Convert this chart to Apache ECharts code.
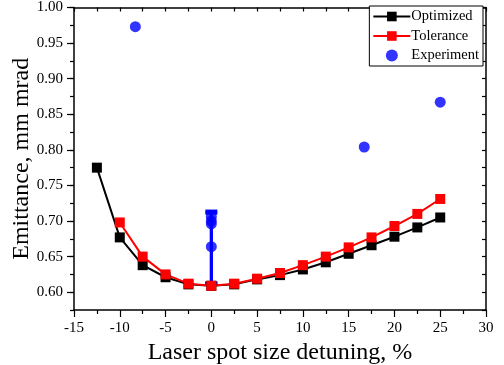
<!DOCTYPE html>
<html>
<head>
<meta charset="utf-8">
<script src="https://cdn.jsdelivr.net/npm/echarts@6/dist/echarts.min.js"></script>
<style>html,body{margin:0;padding:0;background:#fff;}#c{width:504px;height:365px;}</style>
</head>
<body>
<div id="c"></div>
<script>
// Data
const xOptimized = [-12.5, -10, -7.5, -5, -2.5, 0, 2.5, 5, 7.5, 10, 12.5, 15, 17.5, 20, 22.5, 25];
const yOptimized = [0.775, 0.677, 0.638, 0.621, 0.611, 0.609, 0.611, 0.618, 0.624, 0.632, 0.642, 0.654, 0.666, 0.678, 0.691, 0.705];
const xTolerance = [-10, -7.5, -5, -2.5, 0, 2.5, 5, 7.5, 10, 12.5, 15, 17.5, 20, 22.5, 25];
const yTolerance = [0.698, 0.650, 0.625, 0.612, 0.609, 0.612, 0.619, 0.627, 0.638, 0.650, 0.663, 0.677, 0.693, 0.710, 0.731];
const xExperiment = [-8.3, 0, 0, 0, 0, 16.7, 25];
const yExperiment = [0.973, 0.706, 0.700, 0.696, 0.664, 0.804, 0.867];
const errX = [0, 0];
const errLow = [0.613, 0.613];
const errHigh = [0.714, 0.711];
const yMajorTicks = [0.60, 0.65, 0.70, 0.75, 0.80, 0.85, 0.90, 0.95, 1.00];

const FONT = '"Liberation Serif", "Times New Roman", serif';
const chart = echarts.init(document.getElementById('c'), null, {renderer: 'canvas'});

const lineStyleAxis = {color: '#000', width: 1.5};
const option = {
  animation: false,
  backgroundColor: '#fff',
  grid: {left: 74, right: 18, top: 7.5, bottom: 55, containLabel: false, outerBoundsMode: 'none'},
  legend: {
    data: ['Optimized', 'Tolerance', 'Experiment'],
    orient: 'vertical',
    right: 21, top: 6,
    backgroundColor: '#fff',
    borderColor: '#000', borderWidth: 1,
    padding: [3, 4, 3, 3],
    itemGap: 4.5, itemWidth: 37, itemHeight: 12,
    textStyle: {fontFamily: FONT, fontSize: 14.5, color: '#000', padding: [0, 0, 0, -4]}
  },
  xAxis: [
    {
      type: 'value', position: 'bottom', min: -15, max: 30, interval: 5,
      axisLine: {show: true, onZero: false, lineStyle: lineStyleAxis},
      axisTick: {show: true, inside: false, length: 7, lineStyle: {color: '#000', width: 1.2}},
      minorTick: {show: true, splitNumber: 2, length: 4, lineStyle: {color: '#000', width: 1.2}},
      splitLine: {show: false},
      axisLabel: {fontFamily: FONT, fontSize: 15, color: '#000', margin: 11},
      name: 'Laser spot size detuning, %', nameLocation: 'middle', nameGap: 22,
      nameTextStyle: {fontFamily: FONT, fontSize: 24, color: '#000', verticalAlign: 'top'}
    },
    {
      type: 'value', position: 'top', min: -15, max: 30, interval: 2.5,
      axisLine: {show: true, onZero: false, lineStyle: lineStyleAxis},
      axisTick: {show: true, inside: true, length: 4, lineStyle: {color: '#000', width: 1.2}},
      axisLabel: {show: false}, splitLine: {show: false}
    }
  ],
  yAxis: [
    {
      type: 'value', position: 'left', min: 0.575, max: 1.0, interval: 0.025,
      axisLine: {show: true, onZero: false, lineStyle: lineStyleAxis},
      axisTick: {show: true, inside: false, length: 4, lineStyle: {color: '#000', width: 1.2}},
      splitLine: {show: false},
      axisLabel: {
        fontFamily: FONT, fontSize: 15, color: '#000', margin: 11,
        formatter: function (v) { return (Math.round(v * 1000) % 50 === 0) ? v.toFixed(2) : ''; }
      },
      name: 'Emittance, mm mrad', nameLocation: 'middle', nameGap: 40, nameMoveOverlap: false,
      nameTextStyle: {fontFamily: FONT, fontSize: 24, color: '#000'}
    },
    {
      type: 'value', position: 'left', min: 0.575, max: 1.0, interval: 0.025,
      axisLine: {show: false, onZero: false},
      axisTick: {show: true, inside: false, length: 7, customValues: yMajorTicks, lineStyle: {color: '#000', width: 1.2}},
      axisLabel: {show: false}, splitLine: {show: false}
    },
    {
      type: 'value', position: 'right', min: 0.575, max: 1.0, interval: 0.025,
      axisLine: {show: true, onZero: false, lineStyle: lineStyleAxis},
      axisTick: {show: true, inside: true, length: 4, lineStyle: {color: '#000', width: 1.2}},
      axisLabel: {show: false}, splitLine: {show: false}
    }
  ],
  series: [
    {
      name: 'Optimized', type: 'line', xAxisIndex: 0, yAxisIndex: 0,
      data: xOptimized.map((x, i) => [x, yOptimized[i]]),
      symbol: 'rect', symbolSize: 10,
      itemStyle: {color: '#000'}, lineStyle: {color: '#000', width: 2}
    },
    {
      name: 'Tolerance', type: 'line', xAxisIndex: 0, yAxisIndex: 0,
      data: xTolerance.map((x, i) => [x, yTolerance[i]]),
      symbol: 'rect', symbolSize: 10,
      itemStyle: {color: '#ff0000'}, lineStyle: {color: '#ff0000', width: 2}
    },
    {
      name: 'ExpErr', type: 'custom', xAxisIndex: 0, yAxisIndex: 0,
      data: errX.map((x, i) => [x, errLow[i], errHigh[i]]),
      renderItem: function (params, api) {
        const x = api.value(0), lo = api.value(1), hi = api.value(2);
        const pLo = api.coord([x, lo]), pHi = api.coord([x, hi]);
        const hw = 6;
        const st = {stroke: '#0000ff', lineWidth: 3};
        return {
          type: 'group',
          children: [
            {type: 'line', shape: {x1: pLo[0], y1: pLo[1], x2: pHi[0], y2: pHi[1]}, style: st},
            {type: 'line', shape: {x1: pLo[0] - hw, y1: pLo[1], x2: pLo[0] + hw, y2: pLo[1]}, style: st},
            {type: 'line', shape: {x1: pHi[0] - hw, y1: pHi[1], x2: pHi[0] + hw, y2: pHi[1]}, style: st}
          ]
        };
      }
    },
    {
      name: 'Experiment', type: 'scatter', xAxisIndex: 0, yAxisIndex: 0,
      data: xExperiment.map((x, i) => [x, yExperiment[i]]),
      symbol: 'circle', symbolSize: 11,
      itemStyle: {color: '#0000ff'}
    }
  ]
};
chart.setOption(option);
</script>
</body>
</html>
